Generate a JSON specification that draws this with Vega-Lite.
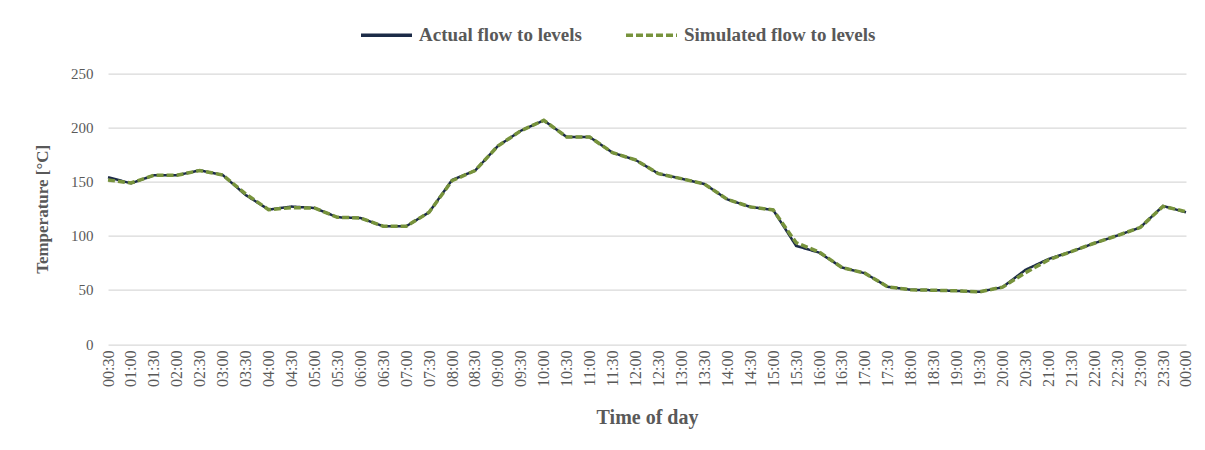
{
  "$schema": "https://vega.github.io/schema/vega-lite/v6.json",
  "width": 1078,
  "height": 270.5,
  "autosize": {"type": "none"},
  "padding": {"left": 108, "top": 73.6, "right": 19, "bottom": 106},
  "background": "white",
  "config": {
    "font": "Liberation Serif",
    "view": {"stroke": null}
  },
  "data": {
    "values": [
      {"t": "00:30", "Actual flow to levels": 154.2, "Simulated flow to levels": 151.7},
      {"t": "01:00", "Actual flow to levels": 148.6, "Simulated flow to levels": 148.9},
      {"t": "01:30", "Actual flow to levels": 156.0, "Simulated flow to levels": 156.0},
      {"t": "02:00", "Actual flow to levels": 156.0, "Simulated flow to levels": 156.0},
      {"t": "02:30", "Actual flow to levels": 160.6, "Simulated flow to levels": 160.4},
      {"t": "03:00", "Actual flow to levels": 156.3, "Simulated flow to levels": 156.3},
      {"t": "03:30", "Actual flow to levels": 137.8, "Simulated flow to levels": 138.8},
      {"t": "04:00", "Actual flow to levels": 124.3, "Simulated flow to levels": 124.3},
      {"t": "04:30", "Actual flow to levels": 127.1, "Simulated flow to levels": 126.0},
      {"t": "05:00", "Actual flow to levels": 125.8, "Simulated flow to levels": 125.8},
      {"t": "05:30", "Actual flow to levels": 117.2, "Simulated flow to levels": 117.2},
      {"t": "06:00", "Actual flow to levels": 116.6, "Simulated flow to levels": 116.6},
      {"t": "06:30", "Actual flow to levels": 108.9, "Simulated flow to levels": 108.9},
      {"t": "07:00", "Actual flow to levels": 108.9, "Simulated flow to levels": 108.9},
      {"t": "07:30", "Actual flow to levels": 121.8, "Simulated flow to levels": 121.8},
      {"t": "08:00", "Actual flow to levels": 151.7, "Simulated flow to levels": 151.0},
      {"t": "08:30", "Actual flow to levels": 160.3, "Simulated flow to levels": 160.3},
      {"t": "09:00", "Actual flow to levels": 183.1, "Simulated flow to levels": 183.1},
      {"t": "09:30", "Actual flow to levels": 197.2, "Simulated flow to levels": 197.2},
      {"t": "10:00", "Actual flow to levels": 206.8, "Simulated flow to levels": 206.8},
      {"t": "10:30", "Actual flow to levels": 191.4, "Simulated flow to levels": 191.4},
      {"t": "11:00", "Actual flow to levels": 191.4, "Simulated flow to levels": 191.4},
      {"t": "11:30", "Actual flow to levels": 176.9, "Simulated flow to levels": 176.9},
      {"t": "12:00", "Actual flow to levels": 170.2, "Simulated flow to levels": 170.2},
      {"t": "12:30", "Actual flow to levels": 157.5, "Simulated flow to levels": 157.5},
      {"t": "13:00", "Actual flow to levels": 152.9, "Simulated flow to levels": 152.9},
      {"t": "13:30", "Actual flow to levels": 148.0, "Simulated flow to levels": 148.0},
      {"t": "14:00", "Actual flow to levels": 133.8, "Simulated flow to levels": 133.8},
      {"t": "14:30", "Actual flow to levels": 126.8, "Simulated flow to levels": 126.8},
      {"t": "15:00", "Actual flow to levels": 124.0, "Simulated flow to levels": 124.0},
      {"t": "15:30", "Actual flow to levels": 90.8, "Simulated flow to levels": 93.8},
      {"t": "16:00", "Actual flow to levels": 84.6, "Simulated flow to levels": 85.2},
      {"t": "16:30", "Actual flow to levels": 70.8, "Simulated flow to levels": 70.8},
      {"t": "17:00", "Actual flow to levels": 65.5, "Simulated flow to levels": 65.5},
      {"t": "17:30", "Actual flow to levels": 52.9, "Simulated flow to levels": 52.9},
      {"t": "18:00", "Actual flow to levels": 50.2, "Simulated flow to levels": 50.2},
      {"t": "18:30", "Actual flow to levels": 49.8, "Simulated flow to levels": 49.8},
      {"t": "19:00", "Actual flow to levels": 49.2, "Simulated flow to levels": 49.2},
      {"t": "19:30", "Actual flow to levels": 48.3, "Simulated flow to levels": 48.3},
      {"t": "20:00", "Actual flow to levels": 52.6, "Simulated flow to levels": 52.6},
      {"t": "20:30", "Actual flow to levels": 68.6, "Simulated flow to levels": 66.0},
      {"t": "21:00", "Actual flow to levels": 78.6, "Simulated flow to levels": 77.8},
      {"t": "21:30", "Actual flow to levels": 85.5, "Simulated flow to levels": 85.5},
      {"t": "22:00", "Actual flow to levels": 93.2, "Simulated flow to levels": 93.2},
      {"t": "22:30", "Actual flow to levels": 100.3, "Simulated flow to levels": 100.3},
      {"t": "23:00", "Actual flow to levels": 107.7, "Simulated flow to levels": 107.7},
      {"t": "23:30", "Actual flow to levels": 127.7, "Simulated flow to levels": 127.3},
      {"t": "00:00", "Actual flow to levels": 121.8, "Simulated flow to levels": 122.4}
    ]
  },
  "transform": [
    {"fold": ["Actual flow to levels", "Simulated flow to levels"], "as": ["series", "temp"]}
  ],
  "encoding": {
    "x": {
      "field": "t",
      "type": "ordinal",
      "sort": null,
      "scale": {"type": "point", "padding": 0},
      "title": "Time of day",
      "axis": {
        "labelAngle": -90,
        "labelFont": "Liberation Serif",
        "labelFontSize": 16,
        "labelColor": "#595959",
        "labelPadding": 6,
        "ticks": false,
        "domain": false,
        "grid": false,
        "titleFont": "Liberation Serif",
        "titleFontSize": 20,
        "titleFontWeight": "bold",
        "titleColor": "#595959",
        "titlePadding": 21
      }
    },
    "y": {
      "field": "temp",
      "type": "quantitative",
      "scale": {"domain": [0, 250], "nice": false},
      "title": "Temperature [°C]",
      "axis": {
        "values": [0, 50, 100, 150, 200, 250],
        "labelFont": "Liberation Serif",
        "labelFontSize": 15,
        "labelColor": "#595959",
        "labelPadding": 15,
        "ticks": false,
        "domain": false,
        "grid": true,
        "gridColor": "#D9D9D9",
        "gridWidth": 1.3,
        "titleFont": "Liberation Serif",
        "titleFontSize": 17,
        "titleFontWeight": "bold",
        "titleColor": "#595959",
        "titlePadding": 19
      }
    },
    "color": {
      "field": "series",
      "type": "nominal",
      "scale": {
        "domain": ["Actual flow to levels", "Simulated flow to levels"],
        "range": ["#1C2B47", "#77933C"]
      },
      "legend": {
        "title": null,
        "orient": "none",
        "direction": "horizontal",
        "legendX": 251,
        "legendY": -66,
        "symbolType": "stroke",
        "symbolSize": 2600,
        "symbolStrokeWidth": 3.5,
        "labelFont": "Liberation Serif",
        "labelFontSize": 19,
        "labelFontWeight": "bold",
        "labelColor": "#595959",
        "labelOffset": 5,
        "labelLimit": 0,
        "columnPadding": 36
      }
    },
    "strokeDash": {
      "field": "series",
      "type": "nominal",
      "scale": {
        "domain": ["Actual flow to levels", "Simulated flow to levels"],
        "range": [[1, 0], [7, 3]]
      },
      "legend": null
    }
  },
  "layer": [
    {
      "transform": [{"filter": "datum.series === 'Actual flow to levels'"}],
      "mark": {"type": "line", "strokeWidth": 2.5}
    },
    {
      "transform": [{"filter": "datum.series === 'Simulated flow to levels'"}],
      "mark": {"type": "line", "strokeWidth": 3.5}
    }
  ]
}
